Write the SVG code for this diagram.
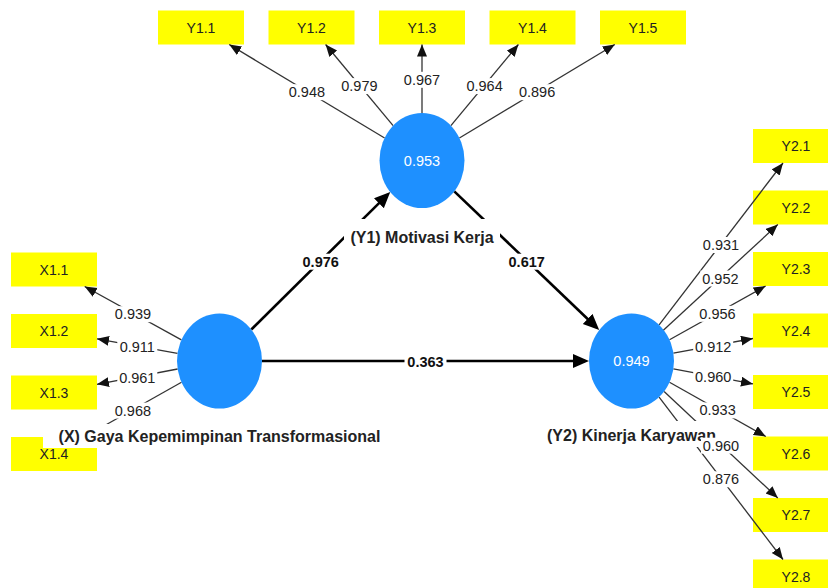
<svg xmlns="http://www.w3.org/2000/svg" width="828" height="588" viewBox="0 0 828 588">
<defs>
<style>
.box rect{fill:#ffff00}
.box text{font:14px "Liberation Sans",Arial,sans-serif;fill:#222;text-anchor:middle}
.lv ellipse{fill:#1e90ff}
.lv .v{font:14.5px "Liberation Sans",Arial,sans-serif;fill:#fff;text-anchor:middle}
.lv .n{font:bold 16px "Liberation Sans",Arial,sans-serif;fill:#222;text-anchor:middle}
.bg{fill:#fff}
.thin{stroke:#333;stroke-width:1.3;fill:none;marker-end:url(#ah)}
.thick{stroke:#000;stroke-width:2.6;fill:none;marker-end:url(#AH)}
.el rect{fill:#fff}
.el text{font:14.5px "Liberation Sans",Arial,sans-serif;fill:#222;text-anchor:middle}
.el .b{font-weight:bold;fill:#111}
</style>
<marker id="ah" markerUnits="userSpaceOnUse" markerWidth="13" markerHeight="11" refX="12" refY="5" orient="auto"><path d="M0,0 L12,5 L0,10 z" fill="#111"/></marker>
<marker id="AH" markerUnits="userSpaceOnUse" markerWidth="17" markerHeight="15" refX="12" refY="7" orient="auto"><path d="M0,0 L16,7 L0,14 z" fill="#000"/></marker>
</defs>
<rect x="0" y="0" width="828" height="588" fill="#fff"/>

<g id="Y1.1" class="box"><rect x="158" y="10.5" width="86" height="34"/><text x="201" y="32.5">Y1.1</text></g>
<g id="Y1.2" class="box"><rect x="268.5" y="10.5" width="86" height="34"/><text x="311.5" y="32.5">Y1.2</text></g>
<g id="Y1.3" class="box"><rect x="379" y="10.5" width="86" height="34"/><text x="422" y="32.5">Y1.3</text></g>
<g id="Y1.4" class="box"><rect x="489.5" y="10.5" width="86" height="34"/><text x="532.5" y="32.5">Y1.4</text></g>
<g id="Y1.5" class="box"><rect x="600" y="10.5" width="86" height="34"/><text x="643" y="32.5">Y1.5</text></g>

<g id="X1.1" class="box"><rect x="11" y="252.5" width="86" height="34"/><text x="54" y="274.5">X1.1</text></g>
<g id="X1.2" class="box"><rect x="11" y="314" width="86" height="34"/><text x="54" y="336">X1.2</text></g>
<g id="X1.3" class="box"><rect x="11" y="375.5" width="86" height="34"/><text x="54" y="397.5">X1.3</text></g>
<g id="X1.4" class="box"><rect x="11" y="437" width="86" height="34"/><text x="54" y="459">X1.4</text></g>

<g id="Y2.1" class="box"><rect x="753" y="129" width="86" height="34"/><text x="796" y="151">Y2.1</text></g>
<g id="Y2.2" class="box"><rect x="753" y="190.5" width="86" height="34"/><text x="796" y="212.5">Y2.2</text></g>
<g id="Y2.3" class="box"><rect x="753" y="252" width="86" height="34"/><text x="796" y="274">Y2.3</text></g>
<g id="Y2.4" class="box"><rect x="753" y="313.5" width="86" height="34"/><text x="796" y="335.5">Y2.4</text></g>
<g id="Y2.5" class="box"><rect x="753" y="375" width="86" height="34"/><text x="796" y="397">Y2.5</text></g>
<g id="Y2.6" class="box"><rect x="753" y="436.5" width="86" height="34"/><text x="796" y="458.5">Y2.6</text></g>
<g id="Y2.7" class="box"><rect x="753" y="498" width="86" height="34"/><text x="796" y="520">Y2.7</text></g>
<g id="Y2.8" class="box"><rect x="753" y="559.5" width="86" height="34"/><text x="796" y="581.5">Y2.8</text></g>

<g id="connectors">
<path class="thin" d="M384.6,138 L229.2,44.5"/>
<path class="thin" d="M393.1,125.7 L325.6,44.5"/>
<path class="thin" d="M422,113 L422,44.5"/>
<path class="thin" d="M450.9,125.7 L518.4,44.5"/>
<path class="thin" d="M459.4,138 L614.8,44.5"/>
<path class="thin" d="M181.4,339.9 L84.7,286.5"/>
<path class="thin" d="M177.5,353.4 L97,338.8"/>
<path class="thin" d="M177.6,369 L97,384.3"/>
<path class="thin" d="M181.5,382.3 L84.3,437"/>
<path class="thin" d="M659.1,324.9 L783,163"/>
<path class="thin" d="M663.1,330.6 L777.8,224.5"/>
<path class="thin" d="M669.5,339.7 L765.6,286"/>
<path class="thin" d="M673.4,353.2 L753,338.5"/>
<path class="thin" d="M673.4,368.9 L753,383.9"/>
<path class="thin" d="M669.5,382.3 L765.8,436.5"/>
<path class="thin" d="M664.1,391.5 L777.8,498"/>
<path class="thin" d="M659.1,397.1 L783,559.5"/>
<path class="thick" d="M251.3,329.5 L387.4,194.8"/>
<path class="thick" d="M454.3,191.35 L596.3,327.2"/>
<path class="thick" d="M262,361 L585,361"/>
</g>

<g id="Y1" class="lv">
<ellipse cx="422" cy="160.5" rx="42.5" ry="47.5"/>
<text class="v" x="422" y="166">0.953</text>
<rect class="bg" x="344" y="219" width="156" height="29"/>
<text class="n" x="422" y="242.5">(Y1) Motivasi Kerja</text>
</g>
<g id="X" class="lv">
<ellipse cx="219.5" cy="361" rx="42.5" ry="47.5"/>
<rect class="bg" x="43" y="424" width="353" height="24"/>
<text class="n" x="219.5" y="441.5">(X) Gaya Kepemimpinan Transformasional</text>
</g>
<g id="Y2" class="lv">
<ellipse cx="631.5" cy="361" rx="42.5" ry="47.5"/>
<text class="v" x="631.5" y="366">0.949</text>
<rect class="bg" x="540" y="421" width="183" height="26"/>
<text class="n" x="631.5" y="440.5">(Y2) Kinerja Karyawan</text>
</g>

<g id="connector-labels" class="el">
<rect x="286.9" y="84.2" width="40" height="16"/><text x="306.9" y="97.2">0.948</text>
<rect x="339.4" y="78.1" width="40" height="16"/><text x="359.4" y="91.1">0.979</text>
<rect x="402" y="71.8" width="40" height="16"/><text x="422" y="84.8">0.967</text>
<rect x="464.6" y="78.1" width="40" height="16"/><text x="484.6" y="91.1">0.964</text>
<rect x="517.1" y="84.2" width="40" height="16"/><text x="537.1" y="97.2">0.896</text>
<rect x="113" y="306.2" width="40" height="16"/><text x="133" y="319.2">0.939</text>
<rect x="117.3" y="339.1" width="40" height="16"/><text x="137.3" y="352.1">0.911</text>
<rect x="117.3" y="369.6" width="40" height="16"/><text x="137.3" y="382.6">0.961</text>
<rect x="112.9" y="402.6" width="40" height="16"/><text x="132.9" y="415.6">0.968</text>
<rect x="701" y="237" width="40" height="16"/><text x="721" y="250">0.931</text>
<rect x="700.4" y="270.5" width="40" height="16"/><text x="720.4" y="283.5">0.952</text>
<rect x="697.5" y="305.8" width="40" height="16"/><text x="717.5" y="318.8">0.956</text>
<rect x="693.2" y="338.8" width="40" height="16"/><text x="713.2" y="351.8">0.912</text>
<rect x="693.2" y="369.4" width="40" height="16"/><text x="713.2" y="382.4">0.960</text>
<rect x="697.6" y="402.4" width="40" height="16"/><text x="717.6" y="415.4">0.933</text>
<rect x="701" y="437.7" width="40" height="16"/><text x="721" y="450.7">0.960</text>
<rect x="701" y="471.3" width="40" height="16"/><text x="721" y="484.3">0.876</text>
<rect x="299.7" y="253.7" width="42" height="16"/><text class="b" x="320.7" y="266.7">0.976</text>
<rect x="505.7" y="253.7" width="42" height="16"/><text class="b" x="526.7" y="266.7">0.617</text>
<rect x="404.5" y="354" width="42" height="16"/><text class="b" x="425.5" y="367">0.363</text>
</g>
</svg>
